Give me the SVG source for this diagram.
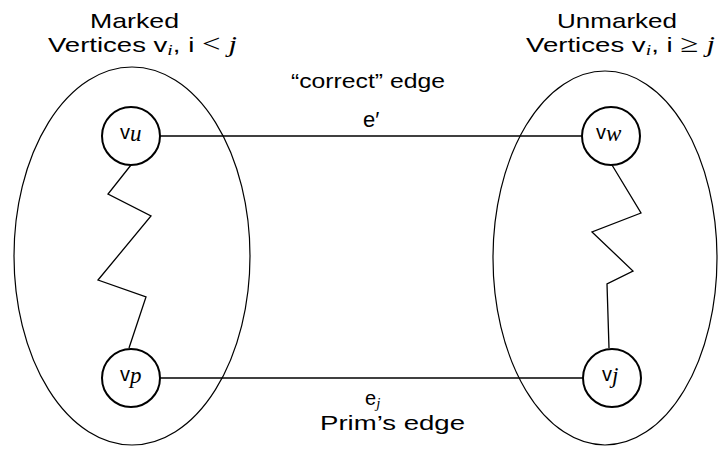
<svg xmlns="http://www.w3.org/2000/svg" width="719" height="449" viewBox="0 0 719 449">
<style>
.sans{font-family:"Liberation Sans",Arial,sans-serif;fill:#000}
.mi{font-family:"Liberation Serif","Times New Roman",serif;font-style:italic}
.mr{font-family:"Liberation Serif","Times New Roman",serif}
.set{fill:none;stroke:#000;stroke-width:1.2}
.node{fill:#fff;stroke:#000;stroke-width:2}
.edge{fill:none;stroke:#000;stroke-width:1.3}
.nl{font-size:20px}
.ns{font-size:23px}
</style>
<rect width="719" height="449" fill="#fff"/>
<g id="sets">
<ellipse id="marked-set" class="set" cx="132" cy="256" rx="118" ry="189"/>
<ellipse id="unmarked-set" class="set" cx="605" cy="258" rx="112" ry="187"/>
</g>
<g id="connectors">
<line class="edge" x1="160" y1="136" x2="582" y2="136"/>
<line class="edge" x1="160" y1="378" x2="583" y2="378"/>
<polyline class="edge" points="131,165 108,194 151,216 98,280 146,297 129,348"/>
<polyline class="edge" points="612,165 641,213 592,232 633,271 607,284 609,348"/>
</g>
<g id="titles">
<text class="sans" font-size="21" x="90" y="28" textLength="89" lengthAdjust="spacingAndGlyphs">Marked</text>
<text class="sans" font-size="21" x="48" y="52" textLength="189" lengthAdjust="spacingAndGlyphs">Vertices v<tspan class="mi" font-size="15" dy="3">i</tspan><tspan dy="-3">, i </tspan><tspan class="mr" font-size="25">&lt; </tspan><tspan class="mi" font-size="23">j</tspan></text>
<text class="sans" font-size="21" x="557" y="28" textLength="120" lengthAdjust="spacingAndGlyphs">Unmarked</text>
<text class="sans" font-size="21" x="526" y="52" textLength="189" lengthAdjust="spacingAndGlyphs">Vertices v<tspan class="mi" font-size="15" dy="3">i</tspan><tspan dy="-3">, i </tspan><tspan class="mr" font-size="25">≥ </tspan><tspan class="mi" font-size="23">j</tspan></text>
</g>
<g id="label-correct">
<text class="sans" font-size="21" x="291" y="88" textLength="154" lengthAdjust="spacingAndGlyphs">“correct” edge</text>
<text class="sans" font-size="22" x="363" y="127">e′</text>
</g>
<g id="label-prim">
<text class="sans" font-size="20" x="365" y="405">e<tspan class="mi" font-size="15" dy="3">j</tspan></text>
<text class="sans" font-size="21" x="320" y="430" textLength="145" lengthAdjust="spacingAndGlyphs">Prim’s edge</text>
</g>
<g id="node-vu">
<circle class="node" cx="131" cy="136" r="29"/>
<text class="sans nl" x="120" y="139">v<tspan class="mi ns" dy="2">u</tspan></text>
</g>
<g id="node-vp">
<circle class="node" cx="131" cy="378" r="29"/>
<text class="sans nl" x="120" y="381">v<tspan class="mi ns" dy="2">p</tspan></text>
</g>
<g id="node-vw">
<circle class="node" cx="611" cy="136" r="29"/>
<text class="sans nl" x="596" y="139">v<tspan class="mi ns" dy="2">w</tspan></text>
</g>
<g id="node-vj">
<circle class="node" cx="612" cy="378" r="29"/>
<text class="sans nl" x="602" y="381">v<tspan class="mi ns" dy="2">j</tspan></text>
</g>
</svg>
